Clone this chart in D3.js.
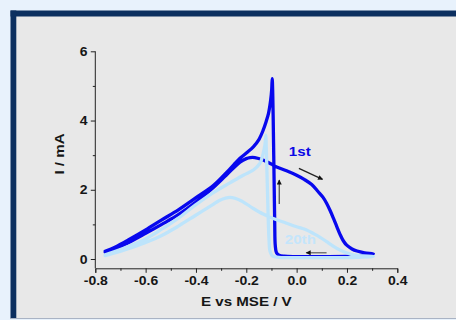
<!DOCTYPE html>
<html>
<head>
<meta charset="utf-8">
<script src="https://cdn.jsdelivr.net/npm/d3@7"></script>
<style>
  html, body { margin: 0; padding: 0; background: #e8f2fc; }
  svg { display: block; }
  text { font-family: "Liberation Sans", Arial, sans-serif; font-weight: bold; }
</style>
</head>
<body>
<svg id="chart" width="456" height="320"></svg>
<script>
// Cyclic voltammogram, 1st and 20th cycles (E in V vs MSE, I in mA)
const cycle1E = [
  -0.761, -0.72, -0.669, -0.60, -0.536, -0.47, -0.404, -0.338, -0.28, -0.225, -0.20, -0.185, -0.166, -0.133, -0.10, -0.086, -0.04,
  0.0, 0.03, 0.06, 0.085, 0.105, 0.119, 0.133, 0.146, 0.16, 0.172, 0.186, 0.199, 0.22, 0.24, 0.27, 0.305,
  0.27, 0.22, 0.10, 0.0, -0.05, -0.07, -0.08, -0.085, -0.087, -0.089, -0.091, -0.093, -0.095, -0.097,
  -0.099, -0.103, -0.112, -0.122, -0.133, -0.15, -0.172, -0.20, -0.225, -0.25, -0.278, -0.331, -0.404, -0.47, -0.536, -0.60, -0.669, -0.72, -0.761
];
const cycle1I = [
  0.20, 0.30, 0.47, 0.74, 1.0, 1.28, 1.62, 2.02, 2.42, 2.80, 2.90, 2.93, 2.93, 2.86, 2.74, 2.68, 2.55,
  2.42, 2.30, 2.15, 1.95, 1.78, 1.61, 1.40, 1.18, 0.93, 0.72, 0.52, 0.40, 0.29, 0.23, 0.18, 0.15,
  0.11, 0.08, 0.07, 0.07, 0.08, 0.11, 0.18, 0.40, 1.0, 2.0, 3.0, 4.0, 4.8, 5.21,
  4.9, 4.6, 4.2, 3.95, 3.72, 3.45, 3.24, 3.06, 2.91, 2.72, 2.50, 2.12, 1.75, 1.42, 1.13, 0.84, 0.55, 0.35, 0.22
];
const cycle20E = [
  -0.761, -0.72, -0.669, -0.60, -0.536, -0.47, -0.404, -0.338, -0.305, -0.264, -0.225, -0.172, -0.133, -0.093, -0.05,
  0.0, 0.035, 0.066, 0.095, 0.119, 0.145, 0.172, 0.225, 0.305,
  0.25, 0.10, 0.0, -0.07, -0.095, -0.105, -0.11, -0.113, -0.116, -0.119, -0.121, -0.122,
  -0.126, -0.133, -0.146, -0.172, -0.212, -0.265, -0.331, -0.404, -0.47, -0.536, -0.60, -0.669, -0.72, -0.761
];
const cycle20I = [
  0.10, 0.18, 0.30, 0.48, 0.68, 0.95, 1.25, 1.55, 1.70, 1.78, 1.70, 1.46, 1.30, 1.17, 1.06,
  0.93, 0.85, 0.74, 0.62, 0.50, 0.37, 0.26, 0.12, 0.07,
  0.05, 0.04, 0.04, 0.05, 0.08, 0.20, 0.60, 1.2, 2.0, 2.8, 3.3, 3.58,
  3.30, 3.05, 2.76, 2.57, 2.42, 2.20, 1.92, 1.55, 1.18, 0.86, 0.58, 0.36, 0.22, 0.12
];
const xTicks = [-0.8, -0.6, -0.4, -0.2, 0.0, 0.2, 0.4];
const xMinorTicks = [-0.7, -0.5, -0.3, -0.1, 0.1, 0.3];
const yTicks = [0, 2, 4, 6];
const yMinorTicks = [1, 3, 5];
const seriesNames = ["1st", "20th"];
const xTitle = "E vs MSE / V";
const yTitle = "I / mA";

const svg = d3.select("#chart");
const W = 456, H = 320;
const stretch = 1.12;

// Page frame
svg.append("rect").attr("width", W).attr("height", H).attr("fill", "#e8f2fc");
svg.append("rect").attr("x", 16).attr("y", 16).attr("width", W - 16).attr("height", 302).attr("fill", "#e8e8e8");
svg.append("rect").attr("x", 10.5).attr("y", 10.5).attr("width", W - 10).attr("height", 6).attr("fill", "#0c2f5f");
svg.append("rect").attr("x", 10.5).attr("y", 10.5).attr("width", 5.8).attr("height", 308).attr("fill", "#0c2f5f");
svg.append("line").attr("x1", 10).attr("x2", W).attr("y1", 318.5).attr("y2", 318.5)
  .attr("stroke", "#a9b3c4").attr("stroke-width", 1);

// Scales
const x = d3.scaleLinear().domain([-0.8, 0.4]).range([95.3, 397.3]);
const y = d3.scaleLinear().domain([0, 6]).range([259, 51.3]);
const axisY = 268.3;

// X axis (plain hyphen for negative labels)
const gx = svg.append("g").attr("transform", `translate(0,${axisY})`);
gx.call(d3.axisBottom(x).tickValues(xTicks).tickSize(4.5).tickPadding(3.5)
  .tickFormat(d => d.toFixed(1)));
gx.append("g").call(d3.axisBottom(x).tickValues(xMinorTicks).tickSize(2.5).tickFormat(""))
  .select(".domain").remove();

// Y axis, extended down to the x axis line
const gy = svg.append("g").attr("transform", `translate(${x(-0.8)},0)`);
gy.call(d3.axisLeft(y).tickValues(yTicks).tickSize(4.5).tickPadding(2.5).tickFormat(d => String(d)));
gy.select(".domain").attr("d", `M0,${y(6)}V${axisY}`);
gy.append("g").call(d3.axisLeft(y).tickValues(yMinorTicks).tickSize(2.5).tickFormat(""))
  .select(".domain").remove();

svg.selectAll(".domain").attr("stroke", "#222").attr("stroke-width", 1);
svg.selectAll(".tick line").attr("stroke", "#222").attr("stroke-width", 1);
svg.selectAll(".tick text")
  .attr("fill", "#161616").attr("font-size", 12.5)
  .style("font-family", '"Liberation Sans", Arial, sans-serif').style("font-weight", "bold")
  .attr("transform", `scale(${stretch},1)`);

// Axis titles
function label(text, px, py, size, fill, anchor, rot) {
  return svg.append("text")
    .attr("transform", `translate(${px},${py}) rotate(${rot || 0}) scale(${stretch},1)`)
    .attr("text-anchor", anchor).attr("font-size", size).attr("fill", fill).text(text);
}
label(xTitle, (x(-0.8) + x(0.4)) / 2, 306, 13.5, "#161616", "middle");
label(yTitle, 64, 154, 13.5, "#161616", "middle", -90);

// Curves
const line = d3.line().x(d => x(d[0])).y(d => y(d[1])).curve(d3.curveCatmullRom.alpha(0.5));
const c1 = cycle1E.map((e, i) => [e, cycle1I[i]]);
const c20 = cycle20E.map((e, i) => [e, cycle20I[i]]);

svg.append("path").attr("d", line(c1)).attr("fill", "none")
  .attr("stroke", "#0808ee").attr("stroke-width", 3.3).attr("stroke-linejoin", "round").attr("stroke-linecap", "round");
svg.append("path").attr("d", line(c20)).attr("fill", "none")
  .attr("stroke", "#bde4fb").attr("stroke-width", 3.3).attr("stroke-linejoin", "round").attr("stroke-linecap", "round");

// Cycle labels
label(seriesNames[0], x(-0.031), y(2.97), 13.5, "#0a0ae6", "start");
label(seriesNames[1], x(-0.047), y(0.43), 13.5, "#c4e5fb", "start");

// Scan direction arrows
const defs = svg.append("defs");
defs.append("marker").attr("id", "head").attr("viewBox", "0 0 10 10")
  .attr("refX", 9).attr("refY", 5).attr("markerWidth", 7).attr("markerHeight", 5)
  .attr("markerUnits", "userSpaceOnUse").attr("orient", "auto")
  .append("path").attr("d", "M0,0L10,5L0,10Z").attr("fill", "#111");

function arrow(e0, i0, e1, i1, col) {
  svg.append("line")
    .attr("x1", x(e0)).attr("y1", y(i0)).attr("x2", x(e1)).attr("y2", y(i1))
    .attr("stroke", col).attr("stroke-width", 1.3).attr("marker-end", "url(#head)");
}
arrow(0.009, 2.62, 0.103, 2.30, "#222");
arrow(-0.069, 1.59, -0.069, 2.28, "#555");
arrow(0.119, 0.18, 0.038, 0.18, "#666");
</script>
</body>
</html>
